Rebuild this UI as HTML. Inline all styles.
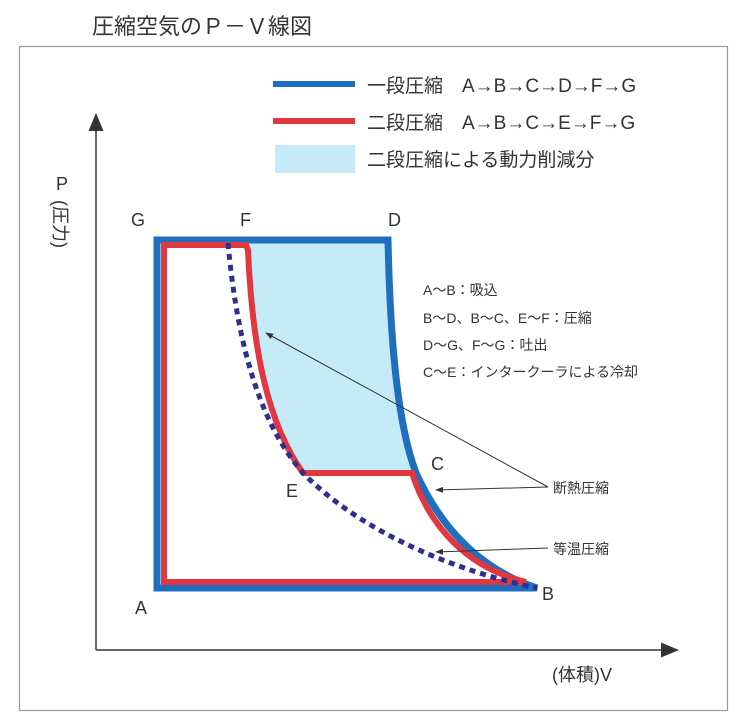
<!DOCTYPE html>
<html><head><meta charset="utf-8"><style>
body{margin:0;background:#fff;}
svg text{font-family:"Liberation Sans","Noto Sans CJK JP",sans-serif;fill:#333;}
</style></head><body>
<svg width="748" height="720" viewBox="0 0 748 720" xmlns="http://www.w3.org/2000/svg">
<defs><marker id="ar" markerWidth="8" markerHeight="6" refX="7" refY="3" orient="auto"><path d="M0,0 L8,3 L0,6 z" fill="#333"/></marker>
<marker id="ax" markerWidth="12" markerHeight="10" refX="2" refY="5" orient="auto"><path d="M0,0 L12,5 L0,10 z" fill="#333"/></marker></defs>
<text x="92" y="34" font-size="22">圧縮空気のＰ－Ｖ線図</text>
<rect x="19.5" y="46.5" width="708" height="664" fill="none" stroke="#999" stroke-width="1.2"/>
<line x1="273" y1="84" x2="355" y2="84" stroke="#1f6fc0" stroke-width="6"/>
<line x1="273" y1="121" x2="355" y2="121" stroke="#e03840" stroke-width="6"/>
<rect x="275" y="145" width="80" height="28" fill="#c5ebf8"/>
<text x="367" y="92" font-size="19">一段圧縮　A→B→C→D→F→G</text>
<text x="367" y="129" font-size="19">二段圧縮　A→B→C→E→F→G</text>
<text x="367" y="166" font-size="19">二段圧縮による動力削減分</text>
<line x1="96" y1="650" x2="96" y2="128" stroke="#333" stroke-width="1.5" marker-end="url(#ax)"/>
<line x1="96" y1="650" x2="664" y2="650" stroke="#333" stroke-width="1.5" marker-end="url(#ax)"/>
<text x="56" y="190" font-size="18">P</text>
<text x="0" y="0" font-size="18" transform="translate(54,200) rotate(90)">(圧力)</text>
<text x="552" y="681" font-size="18">(体積)V</text>
<path d="M248,243 L386,243 C390,330 396,420 414,473 L303,473 C275,440 260,380 252,300 Z" fill="#c5ebf8"/>
<path d="M157,240 L388,240 C390,330 396,420 416,473 C442,530 482,570 537,588 L157,588 Z" fill="none" stroke="#1f6fc0" stroke-width="7" stroke-linejoin="miter"/>
<path d="M164,245 L246,245 L248,250 C252,340 265,420 303,473 L412,473 C430,528 468,568 526,582 L164,582 Z" fill="none" stroke="#e03840" stroke-width="6"/>
<path d="M228,243 C236,330 255,420 305,475 C360,530 450,570 537,588" fill="none" stroke="#2e2f8e" stroke-width="5" stroke-dasharray="6,5"/>
<g font-size="18">
<text x="131" y="226">G</text><text x="240" y="226">F</text><text x="388" y="226">D</text>
<text x="431" y="470">C</text><text x="286" y="497">E</text>
<text x="135" y="614">A</text><text x="542" y="600">B</text>
</g>
<g font-size="14">
<text x="423" y="295">A～B：吸込</text>
<text x="423" y="323">B～D、B～C、E～F：圧縮</text>
<text x="423" y="350">D～G、F～G：吐出</text>
<text x="423" y="377">C～E：インタークーラによる冷却</text>
<text x="553" y="493">断熱圧縮</text>
<text x="553" y="554">等温圧縮</text>
</g>
<line x1="548" y1="487" x2="266" y2="333" stroke="#333" stroke-width="1" marker-end="url(#ar)"/>
<line x1="548" y1="487" x2="436" y2="490" stroke="#333" stroke-width="1" marker-end="url(#ar)"/>
<line x1="548" y1="548" x2="436" y2="552" stroke="#333" stroke-width="1" marker-end="url(#ar)"/>
</svg>
</body></html>
